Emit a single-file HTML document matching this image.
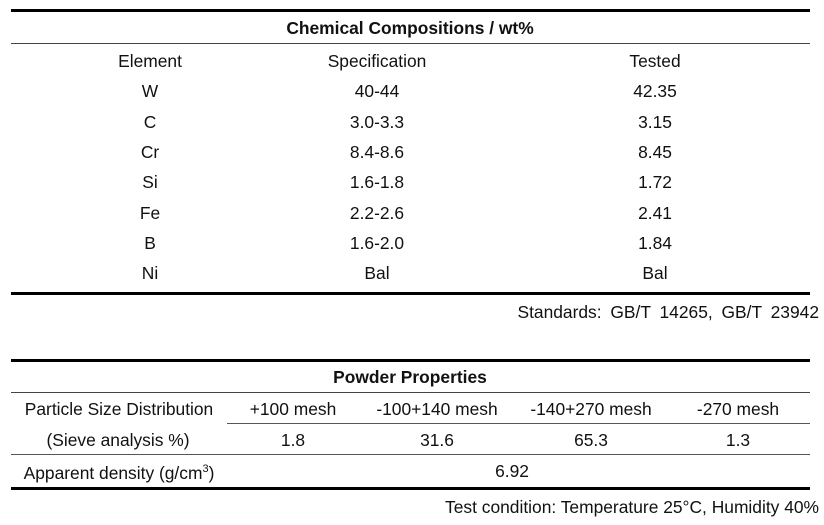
<!DOCTYPE html>
<html><head><meta charset="utf-8"><style>
body{margin:0;width:824px;height:525px;background:#fff;position:relative;font-family:"Liberation Sans",Arial,sans-serif;color:#111;overflow:hidden}
.l{position:absolute;background:#000}
.t{position:absolute;font-size:17.4px;line-height:20px;white-space:nowrap;transform:translate(-50%,-50%)}
.b{font-weight:bold}
.r{position:absolute;font-size:17.4px;line-height:20px;white-space:nowrap;transform:translateY(-50%)}
</style></head><body>
<div class="l" style="left:11px;top:9px;width:799px;height:3px"></div>
<div class="t b" style="left:410px;top:28px">Chemical Compositions / wt%</div>
<div class="l" style="left:11px;top:43px;width:799px;height:1px;background:#444"></div>
<div id="chem"></div>
<div class="l" style="left:11px;top:292px;width:799px;height:3px"></div>
<div class="r" style="right:5px;top:312px;word-spacing:4px">Standards: GB/T 14265, GB/T 23942</div>

<div class="l" style="left:11px;top:359px;width:799px;height:3px"></div>
<div class="t b" style="left:410px;top:377px">Powder Properties</div>
<div class="l" style="left:11px;top:392px;width:799px;height:1px;background:#444"></div>
<div class="t" style="left:119px;top:409px">Particle Size Distribution</div>
<div class="t" style="left:118px;top:440px">(Sieve analysis %)</div>
<div class="l" style="left:227px;top:423px;width:583px;height:1px;background:#555"></div>
<div class="l" style="left:11px;top:454px;width:799px;height:1px;background:#555"></div>
<div class="t" style="left:119px;top:471px">Apparent density (g/cm<sup style="font-size:11px">3</sup>)</div>
<div class="t" style="left:512px;top:471px">6.92</div>
<div class="l" style="left:11px;top:487px;width:799px;height:3px"></div>
<div class="r" style="right:5px;top:507px">Test condition: Temperature 25°C, Humidity 40%</div>
<script>
const elements=["Element","W","C","Cr","Si","Fe","B","Ni"];
const specs=["Specification","40-44","3.0-3.3","8.4-8.6","1.6-1.8","2.2-2.6","1.6-2.0","Bal"];
const tested=["Tested","42.35","3.15","8.45","1.72","2.41","1.84","Bal"];
const meshes=["+100 mesh","-100+140 mesh","-140+270 mesh","-270 mesh"];
const sieve=["1.8","31.6","65.3","1.3"];
const c=document.getElementById('chem');
const cols=[[elements,150,'element'],[specs,377,'spec'],[tested,655,'tested']];
cols.forEach(([arr,x,n])=>arr.forEach((v,i)=>{
const d=document.createElement('div');d.className='t';


d.style.left=x+'px';d.style.top=(61+i*30.3)+'px';d.textContent=v;c.appendChild(d);}));
const mx=[293,437,591,738];
meshes.forEach((v,i)=>{
const d=document.createElement('div');d.className='t';


d.style.left=mx[i]+'px';d.style.top='409px';d.textContent=v;document.body.appendChild(d);
const e=document.createElement('div');e.className='t';


e.style.left=mx[i]+'px';e.style.top='440px';e.textContent=sieve[i];document.body.appendChild(e);});
</script>
</body></html>
